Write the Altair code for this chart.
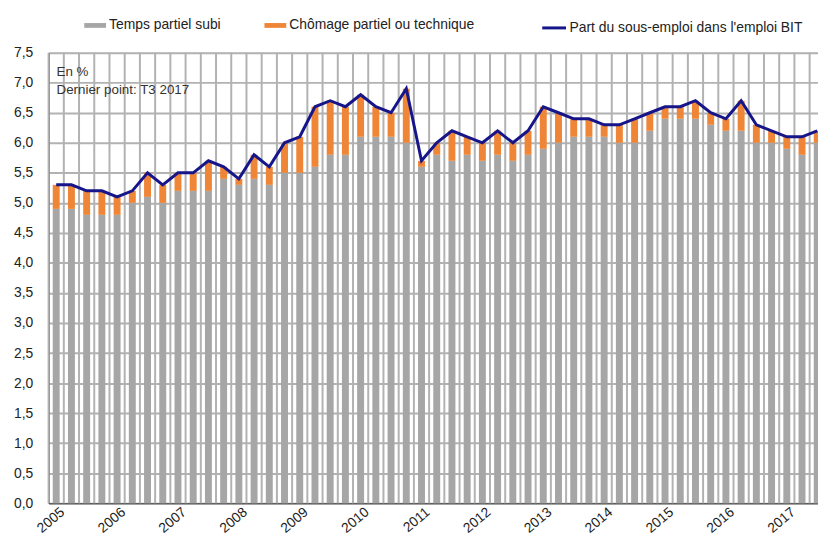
import altair as alt
import pandas as pd

# Quarterly data 2005 T1 .. 2017 T3 (51 quarters)
years = list(range(2005, 2018))
temps_partiel = [4.9, 4.9, 4.8, 4.8,  4.8, 5.0, 5.1, 5.0,  5.2, 5.2, 5.2, 5.4,
                 5.3, 5.4, 5.3, 5.5,  5.5, 5.6, 5.8, 5.8,  6.1, 6.1, 6.1, 6.0,
                 5.6, 5.8, 5.7, 5.8,  5.7, 5.8, 5.7, 5.8,  5.9, 6.0, 6.1, 6.1,
                 6.1, 6.0, 6.0, 6.2,  6.4, 6.4, 6.4, 6.3,  6.2, 6.2, 6.0, 6.0,
                 5.9, 5.8, 6.0]
sous_emploi = [5.3, 5.3, 5.2, 5.2,  5.1, 5.2, 5.5, 5.3,  5.5, 5.5, 5.7, 5.6,
               5.4, 5.8, 5.6, 6.0,  6.1, 6.6, 6.7, 6.6,  6.8, 6.6, 6.5, 6.9,
               5.7, 6.0, 6.2, 6.1,  6.0, 6.2, 6.0, 6.2,  6.6, 6.5, 6.4, 6.4,
               6.3, 6.3, 6.4, 6.5,  6.6, 6.6, 6.7, 6.5,  6.4, 6.7, 6.3, 6.2,
               6.1, 6.1, 6.2]
series_names = ["Temps partiel subi", "Chômage partiel ou technique"]
line_name = "Part du sous-emploi dans l'emploi BIT"
notes = ["En %", "Dernier point: T3 2017"]
y_ticks = [0.0, 0.5, 1.0, 1.5, 2.0, 2.5, 3.0, 3.5, 4.0, 4.5, 5.0, 5.5, 6.0, 6.5, 7.0, 7.5]

FONT = "Liberation Sans"
GREY = "#a6a6a6"
ORANGE = "#ef8536"
NAVY = "#16168a"
GRID = "#b2b2b2"
AXC = "#404040"
PLOT_H = 455

n = len(sous_emploi)
idx = list(range(n))
chomage = [round(t - g, 2) for t, g in zip(sous_emploi, temps_partiel)]

bars_df = pd.DataFrame({
    "idx": idx * 2,
    "serie": [series_names[0]] * n + [series_names[1]] * n,
    "ord": [0] * n + [1] * n,
    "value": temps_partiel + chomage,
})
line_df = pd.DataFrame({"idx": idx, "value": sous_emploi, "serie": [line_name] * n})
years_df = pd.DataFrame({"idx": [4 * i for i in range(len(years))],
                         "label": [str(y) for y in years]})

xscale = alt.Scale(domain=[-0.5, 50.05], nice=False, zero=False, padding=0)
yscale = alt.Scale(domain=[0, 7.5], nice=False, padding=0)

xaxis = alt.Axis(values=years_df["idx"].tolist(), grid=False, ticks=False, labels=False,
                 domainColor=AXC, domainWidth=1.2)
yaxis = alt.Axis(values=y_ticks, grid=True, gridColor=GRID, gridWidth=2, ticks=False,
                 labelOverlap=False, tickCount=16,
                 labelExpr="replace(format(datum.value, '.1f'), '.', ',')",
                 labelPadding=16, labelFontSize=14, labelFont=FONT,
                 labelColor="#222", domainColor=AXC, domainWidth=1.2)

vgrid = alt.Chart(line_df).transform_calculate(
    gx="datum.idx - 0.5"
).mark_rule(color=GRID, strokeWidth=2).encode(
    x=alt.X("gx:Q", scale=xscale, title=None, axis=xaxis)
)

bars = alt.Chart(bars_df).mark_bar(size=7).encode(
    x=alt.X("idx:Q", scale=xscale, title=None, axis=xaxis),
    y=alt.Y("value:Q", stack="zero", scale=yscale, title=None, axis=yaxis),
    fill=alt.Fill("serie:N",
                  scale=alt.Scale(domain=series_names, range=[GREY, ORANGE]),
                  legend=alt.Legend(title=None, orient="none", direction="horizontal",
                                    legendX=36, legendY=-38.5,
                                    symbolType="M-1,-0.22H1V0.22H-1Z", symbolSize=484,
                                    symbolStrokeWidth=0, columnPadding=44,
                                    labelFontSize=14, labelFont=FONT, labelColor="#222",
                                    labelOffset=3, labelLimit=0)),
    order=alt.Order("ord:Q"),
)

line = alt.Chart(line_df).mark_line(strokeWidth=3, strokeJoin="miter").encode(
    x=alt.X("idx:Q", scale=xscale, title=None, axis=xaxis),
    y=alt.Y("value:Q", scale=yscale, title=None, axis=yaxis),
    stroke=alt.Stroke("serie:N", scale=alt.Scale(domain=[line_name], range=[NAVY]),
                      legend=alt.Legend(title=None, orient="none", legendX=497, legendY=-38.5,
                                        symbolType="stroke", symbolSize=576,
                                        symbolStrokeWidth=3, labelFontSize=14,
                                        labelFont=FONT, labelColor="#222", labelOffset=2,
                                        labelLimit=0)),
)

year_labels = alt.Chart(years_df).mark_text(
    angle=320, align="right", baseline="top", font=FONT, fontSize=14, color="#222",
    dx=3
).encode(
    x=alt.X("idx:Q", scale=xscale, title=None, axis=xaxis),
    y=alt.value(PLOT_H + 4),
    text="label:N",
)

note = alt.Chart(pd.DataFrame({"t": ["\n".join(notes)]})).mark_text(
    align="left", baseline="top", font=FONT, fontSize=13.5, color="#333",
    lineHeight=18, lineBreak="\n"
).encode(text="t:N", x=alt.value(8), y=alt.value(13))

chart = alt.layer(vgrid, bars, line, year_labels, note).resolve_scale(
    fill="independent", stroke="independent"
).properties(
    width=777, height=PLOT_H,
    autosize=alt.AutoSizeParams(type="none"),
    padding={"left": 41, "top": 42.5, "right": 0, "bottom": 33},
).configure_view(stroke=AXC, strokeWidth=1.2).configure(background="white")

chart.save("out.html", embed_options={"renderer": "svg", "actions": False})
